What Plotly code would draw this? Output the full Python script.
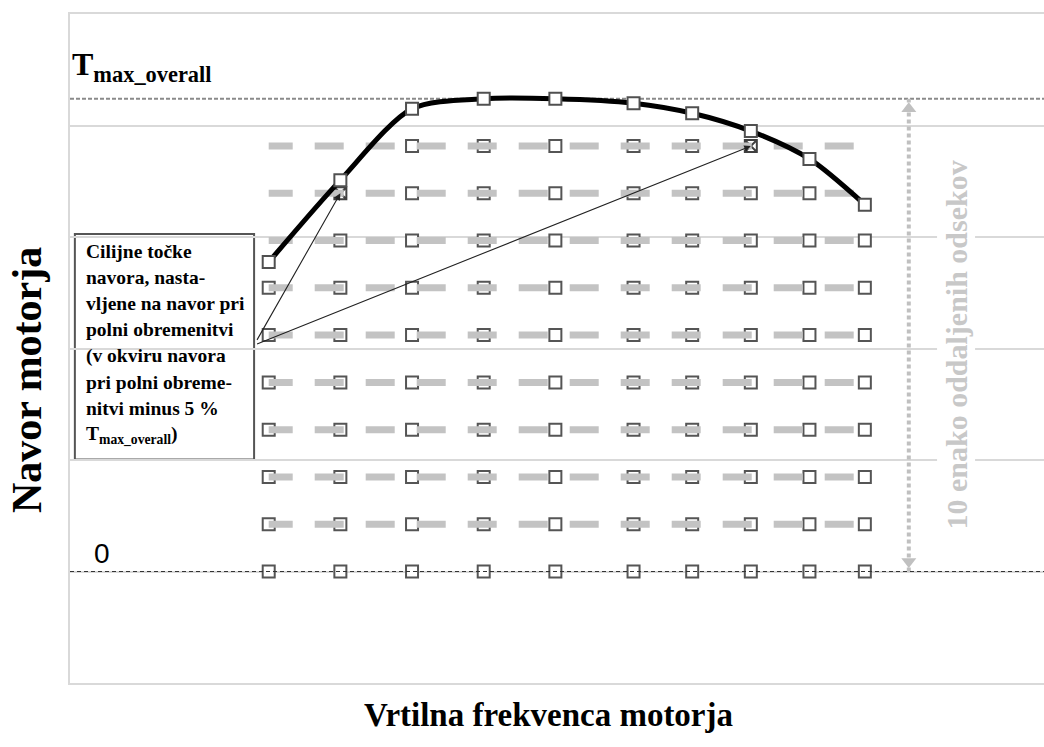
import plotly.graph_objects as go

# Engine speed points (rpm) and full-load torque at each point (Nm)
speeds = [600, 820, 1040, 1260, 1480, 1720, 1900, 2080, 2260, 2430]
full_load = [277.5, 351, 415, 424, 424, 420, 411, 395, 370, 329]
T_MAX = 424          # T_max_overall
N_LEVELS = 10        # equally spaced torque steps between 0 and T_max_overall
TOLERANCE = 0.05     # target set to full load when within 5 % of T_max_overall

step = T_MAX / N_LEVELS
levels = [k * step for k in range(N_LEVELS)]

SERIF = "Liberation Serif"
GRID = "#d9d9d9"

# Target points below the full-load curve
tx, ty, sx, sy = [], [], [], []
for s, fl in zip(speeds, full_load):
    for lv in levels:
        if lv <= fl:
            if fl - lv < TOLERANCE * T_MAX:
                sx.append(s); sy.append(lv)
            else:
                tx.append(s); ty.append(lv)

fig = go.Figure()

fig.add_trace(go.Scatter(
    x=tx, y=ty, mode="markers", hoverinfo="skip",
    marker=dict(symbol="square", size=12, color="white",
                line=dict(color="#555555", width=2))))
fig.add_trace(go.Scatter(
    x=sx, y=sy, mode="markers", hoverinfo="skip",
    marker=dict(symbol="square-x", size=12, color="white",
                line=dict(color="#404040", width=2))))

# Grey dashed torque levels (long-dash pattern, shorter first dash)
lx, ly = [], []
for lv in levels[1:]:
    lx += [speeds[0], speeds[-1], None]
    ly += [lv, lv, None]
long_dash = "24px,22px," + ",".join(["29px,22px"] * 12)
fig.add_trace(go.Scatter(
    x=lx, y=ly, mode="lines", hoverinfo="skip",
    line=dict(color="#c3c3c3", width=7, dash=long_dash)))

# Full-load curve
fig.add_trace(go.Scatter(
    x=speeds, y=full_load, mode="lines+markers", hoverinfo="skip",
    line=dict(color="black", width=5, shape="spline", smoothing=0.8),
    marker=dict(symbol="square", size=12, color="white",
                line=dict(color="#505050", width=2))))

# Double-headed dotted arrow spanning the 10 segments
XA = 2565
head_inset = 9
fig.add_trace(go.Scatter(
    x=[XA, XA], y=[0, T_MAX], mode="lines", hoverinfo="skip",
    line=dict(color="#c0c0c0", width=4, dash="4px,3px")))
fig.add_trace(go.Scatter(
    x=[XA, XA], y=[head_inset, T_MAX - head_inset], mode="markers", hoverinfo="skip",
    marker=dict(symbol=["triangle-down", "triangle-up"], size=13, color="#c0c0c0")))

shapes = [
    # T_max_overall reference line
    dict(type="line", xref="paper", x0=0, x1=1, yref="y", y0=T_MAX, y1=T_MAX,
         line=dict(color="#8a8a8a", width=2, dash="4px,2px"), layer="between"),
    # zero torque line
    dict(type="line", xref="paper", x0=0, x1=1, yref="y", y0=0, y1=0,
         line=dict(color="#333333", width=1.2, dash="4px,3px"), layer="above"),
    # callout box
    dict(type="rect", xref="paper", yref="paper", x0=0.005, x1=0.189, y0=0.334, y1=0.671,
         fillcolor="white", line=dict(color="#555555", width=2), layer="between"),
]

annotations = [
    dict(text="T<sub>max_overall</sub>", xref="paper", yref="paper", x=0.0, y=0.922,
         xanchor="left", yanchor="middle", showarrow=False,
         font=dict(family=SERIF, size=32, color="black", weight="bold")),
    dict(text="0", xref="paper", yref="paper", x=0.033, y=0.193,
         xanchor="center", yanchor="middle", showarrow=False,
         font=dict(family="Liberation Sans", size=28, color="black")),
    dict(text="Navor motorja", xref="paper", yref="paper", x=-0.044, y=0.453,
         xanchor="center", yanchor="middle", textangle=-90, showarrow=False,
         font=dict(family=SERIF, size=42, color="black", weight="bold")),
    dict(text="Vrtilna frekvenca motorja", xref="paper", yref="paper", x=0.491, y=-0.048,
         xanchor="center", yanchor="middle", showarrow=False,
         font=dict(family=SERIF, size=33, color="black", weight="bold")),
    dict(text="10 enako oddaljenih odsekov", xref="paper", yref="paper", x=0.9097, y=0.5045,
         xanchor="center", yanchor="middle", textangle=-90, showarrow=False,
         bgcolor="white", borderpad=2,
         font=dict(family=SERIF, size=30, color="#c8c8c8", weight="bold")),
]

box_lines = [
    "Cilijne točke",
    "navora, nasta-",
    "vljene na navor pri",
    "polni obremenitvi",
    "(v okviru navora",
    "pri polni obreme-",
    "nitvi minus 5 %",
    "T<sub>max_overall</sub>)",
]
top_px, line_px = 251, 26.3
for i, t in enumerate(box_lines):
    ypx = top_px + i * line_px
    annotations.append(dict(
        text=t, xref="paper", yref="paper", x=(84 - 70) / 974, y=(683 - ypx) / 669,
        xanchor="left", yanchor="middle", showarrow=False,
        font=dict(family=SERIF, size=19.5, color="black", weight="bold")))

# Arrows from the callout to the points moved onto the full-load curve
for px_, py_ in zip(sx, sy):
    annotations.append(dict(
        x=px_, y=py_, xref="x", yref="y", ax=555, ay=203, axref="x", ayref="y",
        text=" ", showarrow=True, arrowhead=2, arrowsize=1.2, arrowwidth=1.1,
        arrowcolor="#222222", standoff=0))

fig.update_layout(
    width=1044, height=747,
    margin=dict(l=70, r=0, t=14, b=64),
    paper_bgcolor="white", plot_bgcolor="white",
    showlegend=False,
    xaxis=dict(range=[-10, 2980], showgrid=False, zeroline=False, showticklabels=False,
               ticks="", showline=True, linecolor=GRID, linewidth=2, mirror=True),
    yaxis=dict(range=[-100, 500], dtick=100, tick0=0, showgrid=True, gridcolor=GRID,
               gridwidth=1.5, zeroline=False, showticklabels=False, ticks="",
               showline=True, linecolor=GRID, linewidth=2),
    shapes=shapes,
    annotations=annotations,
)

fig.write_html("out.html")
